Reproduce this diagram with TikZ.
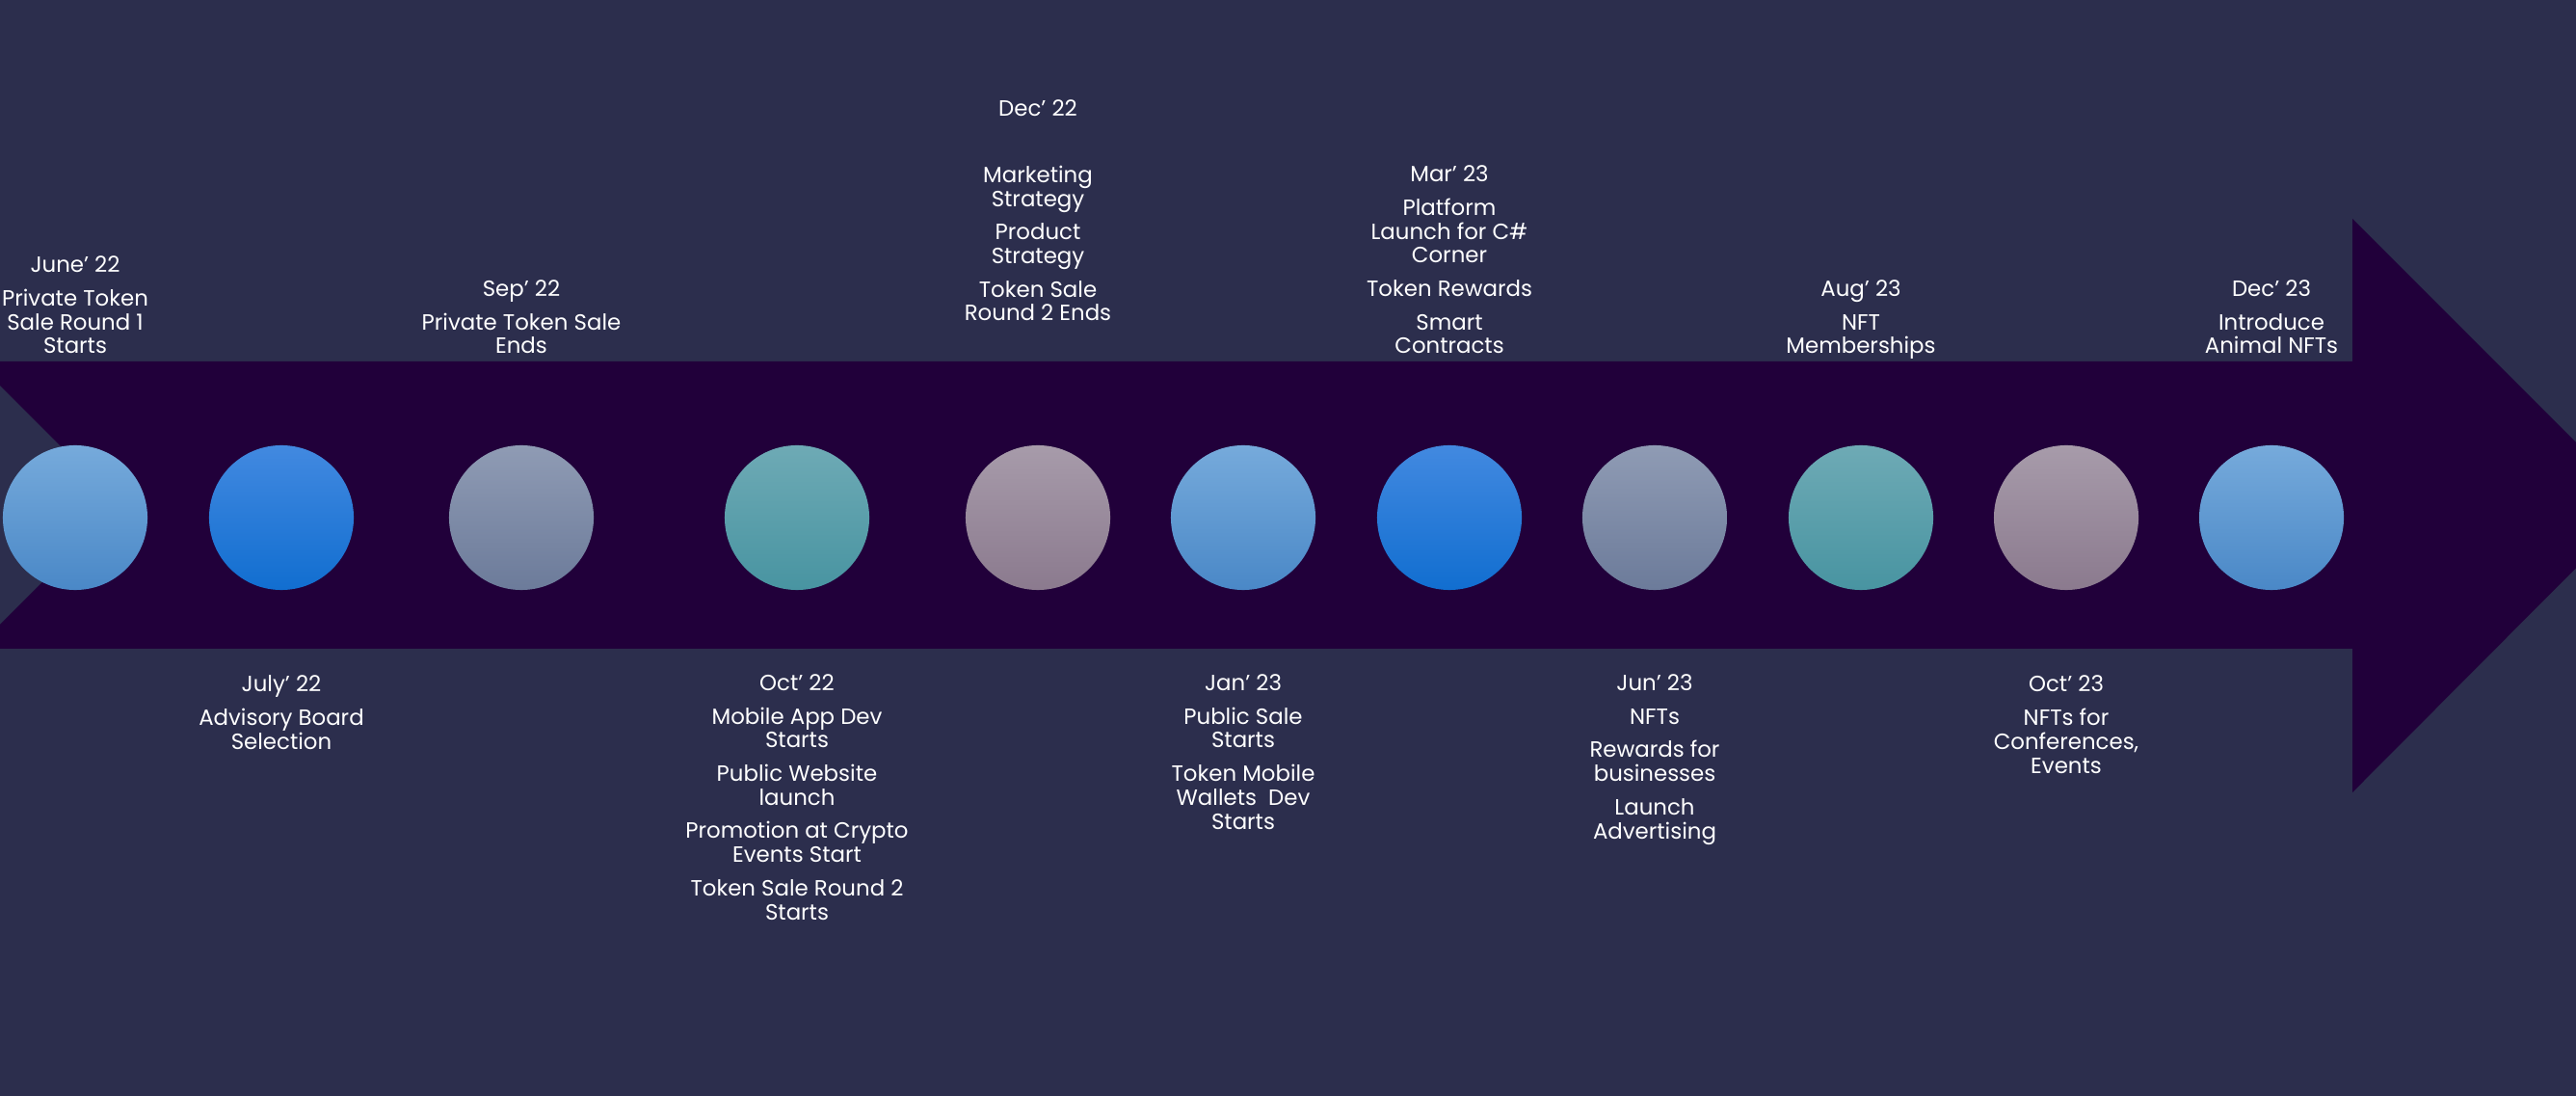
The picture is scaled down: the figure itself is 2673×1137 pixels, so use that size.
\documentclass[tikz,border=0pt]{standalone}
\usepackage{fontspec}
\setmainfont{Poppins}
\usepackage{tikz}
\usetikzlibrary{positioning}

\definecolor{bgcol}{HTML}{2C2E4D}
\definecolor{bandcol}{HTML}{21003A}
\definecolor{skytop}{HTML}{76AADB}
\definecolor{skybot}{HTML}{4A88C7}
\definecolor{bluetop}{HTML}{4289E0}
\definecolor{bluemid}{HTML}{2280E2}
\definecolor{bluebot}{HTML}{116ED0}
\definecolor{slatetop}{HTML}{8F9BB4}
\definecolor{slatebot}{HTML}{6C7B9A}
\definecolor{tealtop}{HTML}{6EAAB5}
\definecolor{tealbot}{HTML}{4894A1}
\definecolor{mauvetop}{HTML}{A79BAA}
\definecolor{mauvebot}{HTML}{8B7A8E}
\newcommand{\lblfont}{\fontsize{6.5pt}{7pt}\selectfont}

\begin{document}
\begin{tikzpicture}[
  x=0.01cm, y=-0.01cm,
  dot/.style={circle, minimum size=1.5cm, inner sep=0pt},
  skydot/.style={dot, top color=skytop, bottom color=skybot},
  bluedot/.style={dot, top color=bluetop, middle color=bluemid, bottom color=bluebot},
  slatedot/.style={dot, top color=slatetop, bottom color=slatebot},
  tealdot/.style={dot, top color=tealtop, bottom color=tealbot},
  mauvedot/.style={dot, top color=mauvetop, bottom color=mauvebot},
  lbl/.style={text=white, align=center, inner sep=0pt, anchor=base, font=\lblfont}
]
  \fill[bgcol] (0,0) rectangle (2673,1137);
  \useasboundingbox (0,0) rectangle (2673,1137);
  \clip (0,0) rectangle (2673,1137);

  % the big arrow
  \fill[bandcol] (-25,375) -- (2441,375) -- (2441,227) -- (2738,524) -- (2441,822)
    -- (2441,673) -- (-25,673) -- (124,524) -- cycle;

  % milestones
  \node[skydot]   (m1)  at (78,537)   {};
  \node[bluedot]  (m2)  at (292,537)  {};
  \node[slatedot] (m3)  at (541,537)  {};
  \node[tealdot]  (m4)  at (827,537)  {};
  \node[mauvedot] (m5)  at (1077,537) {};
  \node[skydot]   (m6)  at (1290,537) {};
  \node[bluedot]  (m7)  at (1504,537) {};
  \node[slatedot] (m8)  at (1717,537) {};
  \node[tealdot]  (m9)  at (1931,537) {};
  \node[mauvedot] (m10) at (2144,537) {};
  \node[skydot]   (m11) at (2357,537) {};

  % labels above the band (placed at their last line)
  \node[lbl] (jun22) at (78,367) {June’ 22\\[2.9pt]Private Token\\Sale Round 1\\Starts};
  \node[lbl] (sep22) at (541,367) {Sep’ 22\\[2.9pt]Private Token Sale\\Ends};
  \node[lbl] (dec22) at (1077,333) {Dec’ 22\\[12.5pt]Marketing\\Strategy\\[2.9pt]Product\\Strategy\\[2.9pt]Token Sale\\Round 2 Ends};
  \node[lbl] (mar23) at (1504,367) {Mar’ 23\\[2.9pt]Platform\\Launch for C\#\\Corner\\[2.9pt]Token Rewards\\[2.9pt]Smart\\Contracts};
  \node[lbl] (aug23) at (1931,367) {Aug’ 23\\[2.9pt]NFT\\Memberships};
  \node[lbl] (dec23) at (2357,367) {Dec’ 23\\[2.9pt]Introduce\\Animal NFTs};

  % labels below the band
  \node[lbl] (jul22) at (292,777) {July’ 22\\[2.9pt]Advisory Board\\Selection};
  \node[lbl] (oct22) at (827,954) {Oct’ 22\\[2.9pt]Mobile App Dev\\Starts\\[2.9pt]Public Website\\launch\\[2.9pt]Promotion at Crypto\\Events Start\\[2.9pt]Token Sale Round 2\\Starts};
  \node[lbl] (jan23) at (1290,860) {Jan’ 23\\[2.9pt]Public Sale\\Starts\\[2.9pt]Token Mobile\\Wallets~~Dev\\Starts};
  \node[lbl] (jun23) at (1717,870) {Jun’ 23\\[2.9pt]NFTs\\[2.9pt]Rewards for\\businesses\\[2.9pt]Launch\\Advertising};
  \node[lbl] (oct23) at (2144,802) {Oct’ 23\\[2.9pt]NFTs for\\Conferences,\\Events};
\end{tikzpicture}
\end{document}
